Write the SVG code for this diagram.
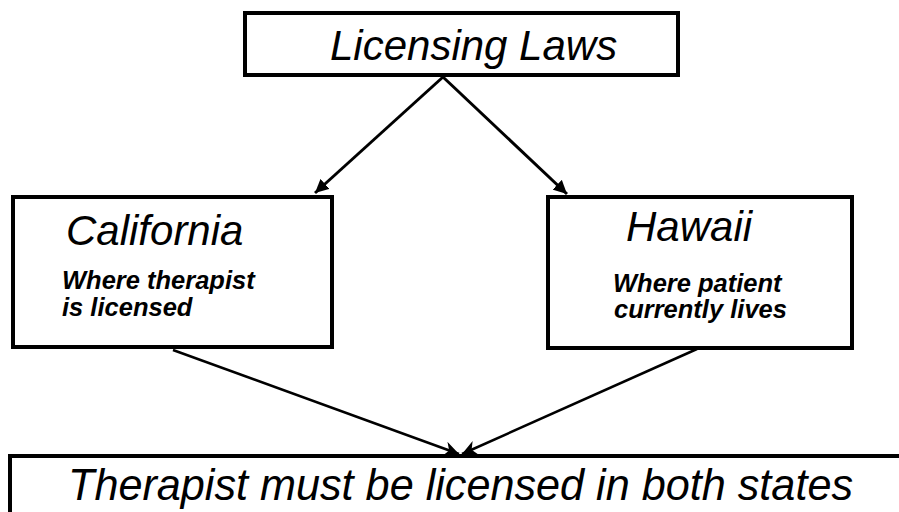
<svg xmlns="http://www.w3.org/2000/svg" width="899" height="512" viewBox="0 0 899 512">
<style>
.box{fill:#fff;stroke:#000;stroke-width:4}
.t{font-family:"Liberation Sans",Arial,sans-serif;font-style:italic;fill:#000}
.big{font-size:42px}
.sub{font-size:25.5px;font-weight:bold}
.conn{stroke:#000;fill:none}
</style>
<defs>
<marker id="ah" viewBox="0 0 10 10" refX="10" refY="5" markerWidth="4.5" markerHeight="4.5" orient="auto" markerUnits="strokeWidth">
<path d="M0,0 L10,5 L0,10 z" fill="#000"/>
</marker>
<marker id="ah2" viewBox="0 0 10 10" refX="10" refY="5" markerWidth="6" markerHeight="6" orient="auto" markerUnits="strokeWidth">
<path d="M0,0 L10,5 L0,10 L3,5 z" fill="#000"/>
</marker>
</defs>
<rect width="899" height="512" fill="#fff"/>
<g id="connectors">
<line class="conn" x1="443" y1="77" x2="315" y2="193" stroke-width="3" marker-end="url(#ah)"/>
<line class="conn" x1="443" y1="77" x2="567" y2="194" stroke-width="3" marker-end="url(#ah)"/>
<line class="conn" x1="173" y1="350" x2="459" y2="454" stroke-width="2.5" marker-end="url(#ah2)"/>
<line class="conn" x1="697" y1="349" x2="462" y2="454" stroke-width="2.5" marker-end="url(#ah2)"/>
</g>
<g id="licensing">
<rect class="box" x="245" y="13" width="433" height="62"/>
<text class="t big" x="330" y="60" font-size="43">Licensing Laws</text>
</g>
<g id="california">
<rect class="box" x="13" y="197" width="319" height="150"/>
<text class="t big" x="66" y="245">California</text>
<text class="t sub" x="62" y="289">Where therapist</text>
<text class="t sub" x="62" y="316">is licensed</text>
</g>
<g id="hawaii">
<rect class="box" x="548" y="197" width="304" height="151"/>
<text class="t big" x="626" y="241">Hawaii</text>
<text class="t sub" x="613" y="292">Where patient</text>
<text class="t sub" x="614" y="318">currently lives</text>
</g>
<g id="result">
<rect class="box" x="10" y="456" width="920" height="100"/>
<text class="t" x="68" y="500" font-size="45" textLength="785" lengthAdjust="spacingAndGlyphs">Therapist must be licensed in both states</text>
</g>
</svg>
